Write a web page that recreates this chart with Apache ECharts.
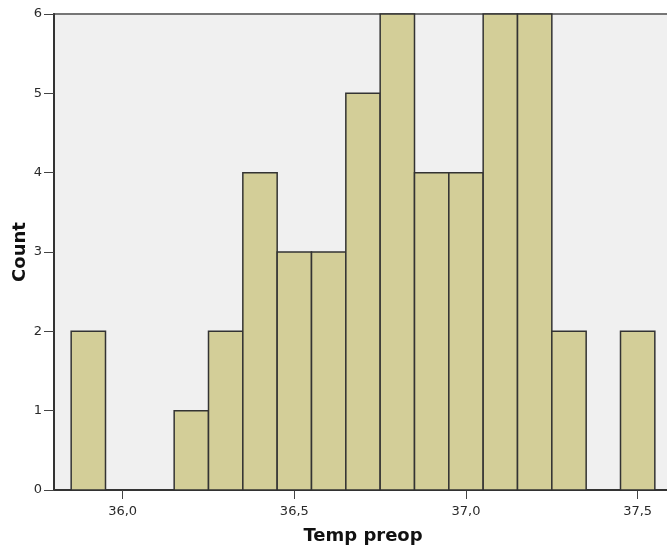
<!DOCTYPE html>
<html><head><meta charset="utf-8">
<script src="https://cdn.jsdelivr.net/npm/echarts@6/dist/echarts.min.js"></script>
<style>html,body{margin:0;padding:0;background:#fff}#c{width:667px;height:549px}</style>
</head><body><div id="c"></div>
<script>
const binCenters = [35.9, 36.0, 36.1, 36.2, 36.3, 36.4, 36.5, 36.6, 36.7, 36.8, 36.9, 37.0, 37.1, 37.2, 37.3, 37.4, 37.5];
const counts     = [2,    0,    0,    1,    2,    4,    3,    3,    5,    6,    4,    4,    6,    6,    2,    0,    2];
const binWidth = 0.1;
const xTickValues = [36.0, 36.5, 37.0, 37.5];
const yTicks = [0, 1, 2, 3, 4, 5, 6];

const data = binCenters.map((c, i) => [c, counts[i]]).filter(d => d[1] > 0);
const chart = echarts.init(document.getElementById('c'), null, {renderer: 'canvas'});
chart.setOption({
  animation: false,
  grid: {left: 54, top: 14, width: 618, height: 476, containLabel: false, outerBoundsMode: 'none',
         show: true, backgroundColor: '#f0f0f0', borderColor: '#767676', borderWidth: 2},
  xAxis: {
    type: 'value', min: 35.8, max: 37.6,
    name: 'Temp preop', nameLocation: 'middle', nameGap: 37, nameMoveOverlap: false,
    nameTextStyle: {fontFamily: 'DejaVu Sans', fontWeight: 'bold', fontSize: 18, color: '#111'},
    axisLine: {show: true, lineStyle: {color: '#333', width: 2}},
    axisTick: {show: true, customValues: xTickValues, length: 9, lineStyle: {color: '#444', width: 1}},
    axisLabel: {customValues: xTickValues, formatter: v => v.toFixed(1).replace('.', ','), fontFamily: 'DejaVu Sans', fontSize: 13, color: '#2a2a2a', margin: 15},
    splitLine: {show: false}
  },
  yAxis: {
    type: 'value', min: 0, max: 6, interval: 1,
    name: 'Count', nameLocation: 'middle', nameGap: 25, nameRotate: 90, nameMoveOverlap: false,
    nameTextStyle: {fontFamily: 'DejaVu Sans', fontWeight: 'bold', fontSize: 18, color: '#111'},
    axisLine: {show: true, lineStyle: {color: '#333', width: 2}},
    axisTick: {show: true, length: 10, lineStyle: {color: '#444', width: 1}},
    axisLabel: {fontFamily: 'DejaVu Sans', fontSize: 13, color: '#2a2a2a', margin: 12},
    splitLine: {show: false}
  },
  series: [{
    type: 'custom',
    data: data,
    renderItem: function (params, api) {
      const x = api.value(0), y = api.value(1);
      const p1 = api.coord([x - binWidth / 2, y]);
      const p2 = api.coord([x + binWidth / 2, 0]);
      return {
        type: 'rect',
        shape: {x: p1[0], y: p1[1], width: p2[0] - p1[0], height: p2[1] - p1[1]},
        style: {fill: '#d3ce98', stroke: '#333', lineWidth: 1.5}
      };
    }
  }]
});
</script></body></html>
